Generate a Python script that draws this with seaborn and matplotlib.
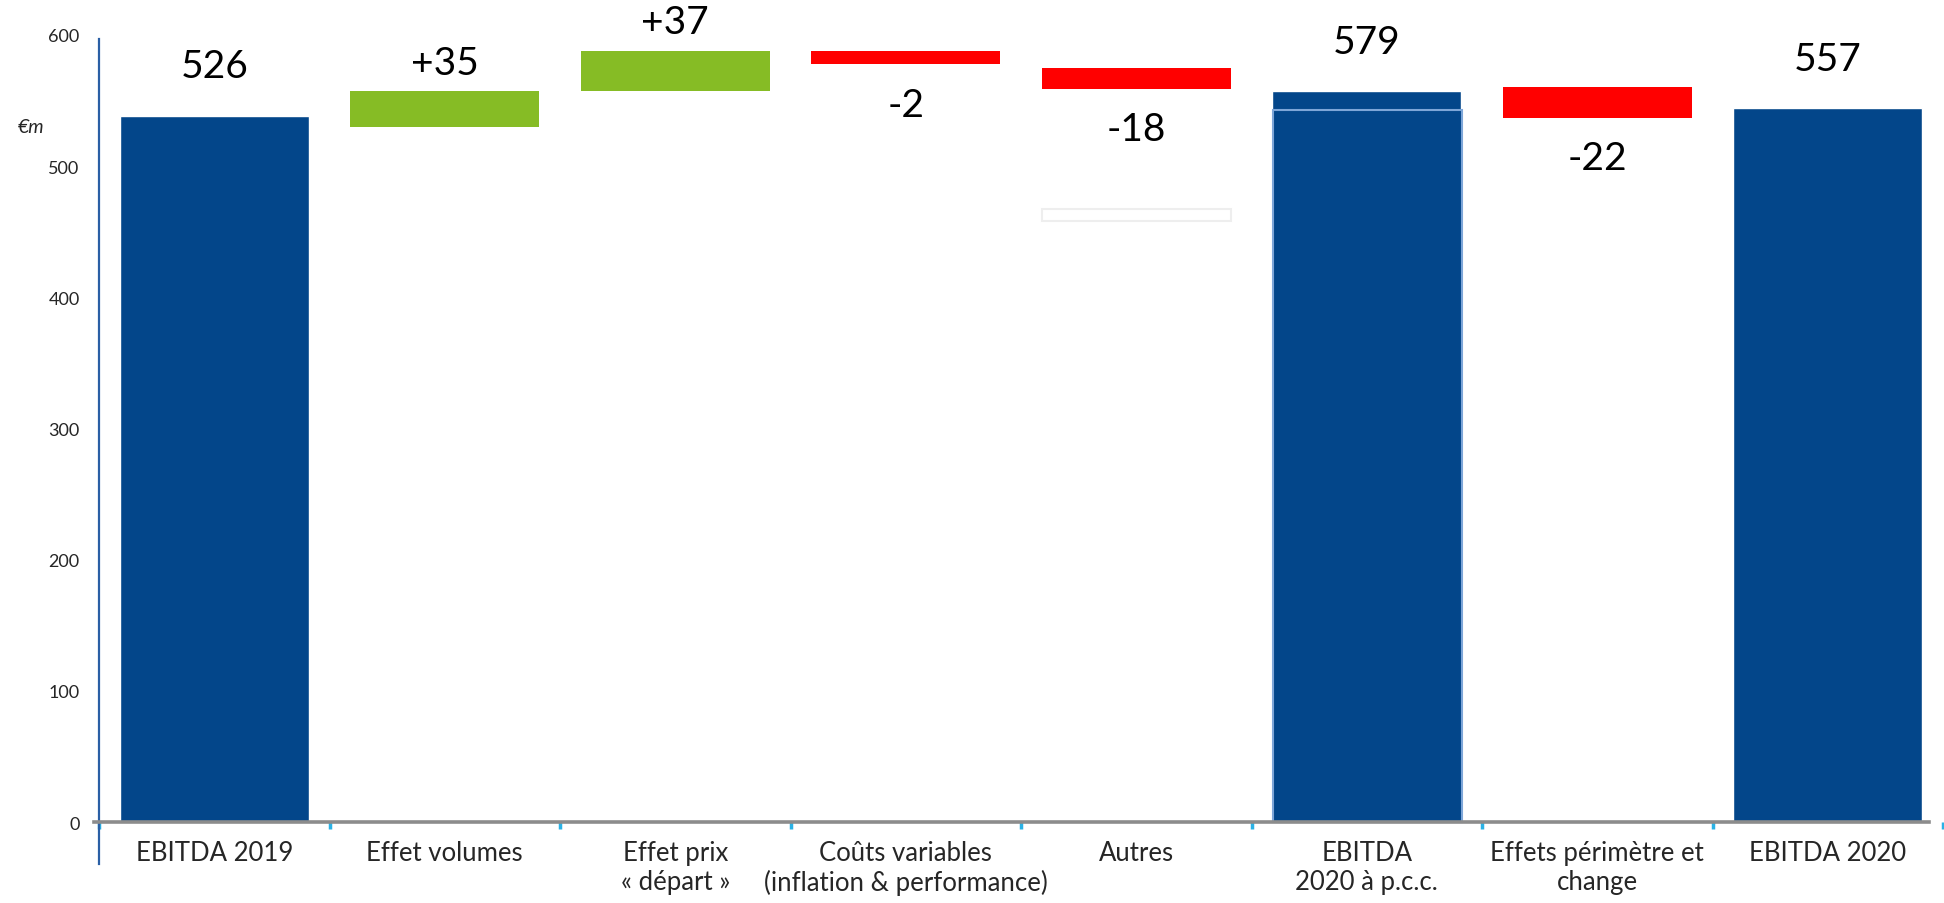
import matplotlib
matplotlib.use("Agg")
import matplotlib.pyplot as plt
import matplotlib.transforms as mtransforms
import seaborn as sns
import numpy as np
import pandas as pd

#%% data
categories = ['EBITDA 2019', 'Effet volumes', 'Effet prix\n« départ »',
              'Coûts variables\n(inflation & performance)', 'Autres',
              'EBITDA\n2020 à p.c.c.', 'Effets périmètre et\nchange', 'EBITDA 2020']
kind = ['total', 'up', 'up', 'down', 'down', 'total', 'down', 'total']
value_labels = ['526', '+35', '+37', '-2', '-18', '579', '-22', '557']
# bar spans as drawn in the picture (low, high)
bar_low = [0, 530, 557, 578, 559, 0, 537, 0]
bar_high = [538, 557, 588, 588, 575, 557, 560, 544]
# second outlined bar behind "EBITDA 2020 à p.c.c."
pcc_inner = 543
# faint empty box under "Autres"
ghost_low, ghost_high = 458, 467
y_ticks = [0, 100, 200, 300, 400, 500, 600]

#%%
sns.set_theme(style='white')
plt.rcParams['font.family'] = ['Lato', 'DejaVu Sans']

blue = '#03468a'
green = '#86bc25'
red = '#ff0000'

fig = plt.figure(figsize=(19.44, 9.04), dpi=100)
ax = fig.add_axes([99/1944, 39/904, 1844/1944, 829/904])

pos = np.arange(len(categories))
w = 0.82

# totals through seaborn
tot = pd.DataFrame({'cat': [c for c, k in zip(categories, kind) if k == 'total'],
                    'val': [h for h, k in zip(bar_high, kind) if k == 'total']})
sns.barplot(data=tot, x='cat', y='val', order=categories, color=blue,
            saturation=1, width=w, ax=ax, zorder=3)

# inner outlined bar of p.c.c.
i_pcc = 5
ax.bar(pos[i_pcc] + 0.005, pcc_inner, width=w, color=blue, edgecolor='#7ea6d8',
       linewidth=1.5, zorder=4)

# ghost box
ax.bar(pos[4], ghost_high - ghost_low, bottom=ghost_low, width=w, color='white',
       edgecolor='#eeeeee', linewidth=1.5, zorder=2)

# floating bars
for i, k in enumerate(kind):
    if k == 'total':
        continue
    c = green if k == 'up' else red
    ax.bar(pos[i], bar_high[i] - bar_low[i], bottom=bar_low[i], width=w,
           color=c, linewidth=0, zorder=3)

# value labels
for i, k in enumerate(kind):
    if k == 'total':
        y = bar_high[i] + 38
    elif k == 'up':
        y = bar_high[i] + 22
    else:
        y = bar_low[i] - 31
    ax.text(pos[i], y, value_labels[i], ha='center', va='center',
            fontsize=28, color='black')

ax.set_xlim(-0.5, len(categories) - 0.5)
ax.set_ylim(-32, 600)
ax.set_xlabel('')
ax.set_ylabel('')

# axes look
for s in ['top', 'right']:
    ax.spines[s].set_visible(False)
ax.spines['bottom'].set_position(('data', 0))
ax.spines['bottom'].set_color('#8c8c8c')
ax.spines['bottom'].set_linewidth(2.6)
ax.spines['bottom'].set_bounds(-0.52, 7.44)
ax.spines['bottom'].set_zorder(5)
ax.spines['left'].set_color('#2a5fa5')
ax.spines['left'].set_linewidth(1.6)
ax.spines['left'].set_bounds(-32, 597)

ax.set_xticks(pos)
ax.set_xticklabels(categories, fontsize=18.5)
ax.set_xticks(np.arange(-0.5, len(categories)), minor=True)
ax.tick_params(axis='x', which='major', bottom=True, length=0, pad=13)
ax.tick_params(axis='x', which='minor', bottom=True, length=5, width=2.5,
               color='#29b2e6', direction='out')
ax.set_yticks(y_ticks)
ax.set_yticklabels([str(v) for v in y_ticks], fontsize=13)
ax.tick_params(axis='y', left=False, pad=8)

trans = mtransforms.blended_transform_factory(ax.transAxes, ax.transData)
ax.text(-0.037, 530, '€m', transform=trans, ha='center', va='center',
        fontsize=14, style='italic', clip_on=False)

fig.savefig('out.png', dpi=100)
